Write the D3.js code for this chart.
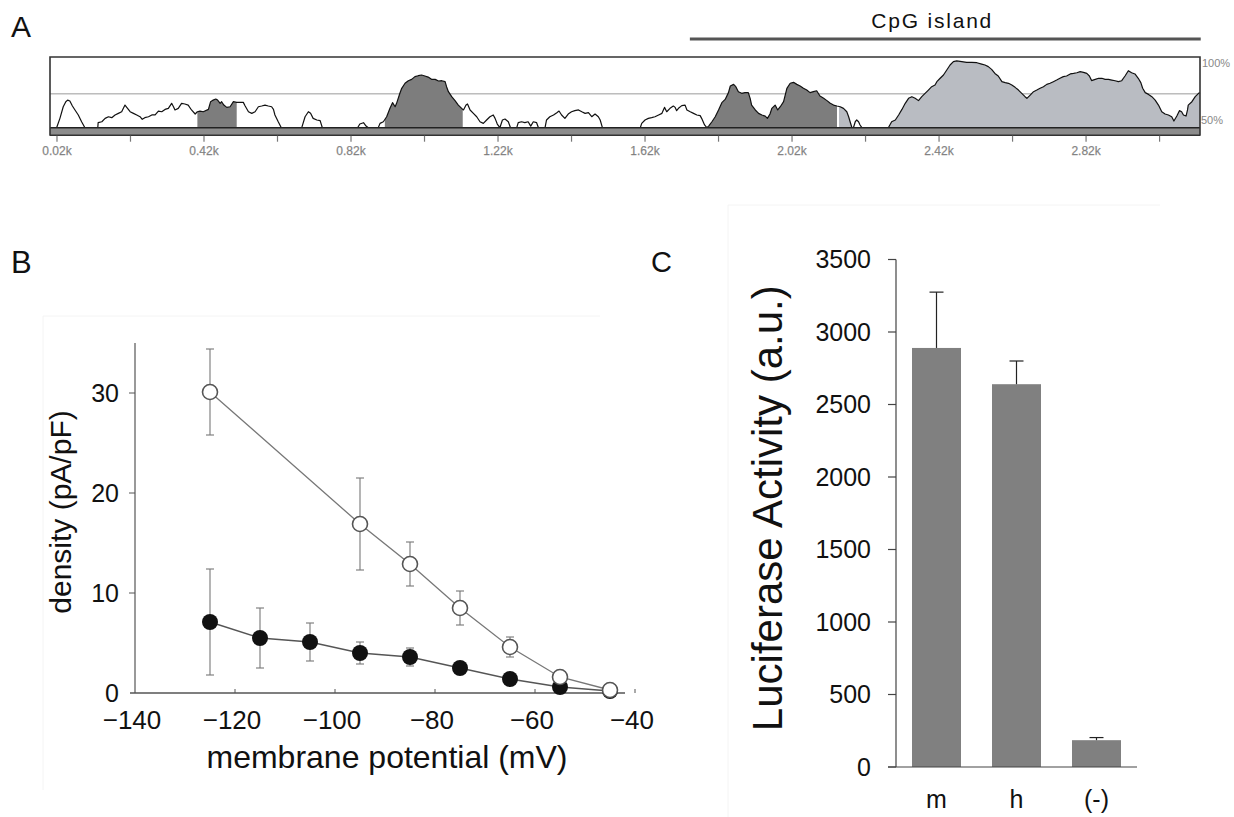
<!DOCTYPE html>
<html>
<head>
<meta charset="utf-8">
<script src="https://cdn.jsdelivr.net/npm/d3@7"></script>
<style>
  body { margin: 0; background: #fff; }
  svg { display: block; font-family: Arial, "Liberation Sans", Helvetica, sans-serif; }
</style>
</head>
<body>
<svg id="fig" width="1234" height="817"></svg>
<script>
// ---------------- Panel A: sequence identity profile (bp, % identity) ----------------
const identityProfile = [
  [1,50],[19,50],[28,56.9],[37,65.5],[44,69.2],[49,70.4],[55,69.7],[62,66],[69,63.1],[78,59.4],[87,54.4],[96,50],
  [131,50],[132,53.7],[142,54.4],[151,56.9],[160,58.1],[169,57.4],[178,59.4],[187,60.6],[196,61.8],[205,66.7],
  [212,64.3],[219,61.8],[228,60.6],[237,59.4],[246,58.1],[252,56.2],[259,57.4],[269,58.1],[278,59.4],[287,59.4],
  [296,62.3],[305,61.8],[314,63.5],[323,64.3],[332,68.0],[337,65.5],[341,63.1],[350,64.3],[359,68.0],[368,67.5],
  [377,66.7],[386,63.1],[396,60.1],[402,61.8],[409,62.3],[418,61.8],[432,63.5],[438,69.2],[445,70.4],[452,71.2],
  [457,70.4],[464,68.0],[468,69.2],[474,66.7],[482,65.0],[491,65.5],[500,69.2],[509,68.7],[518,68.7],[527,68.7],
  [532,66.0],[541,61.8],[550,60.6],[559,61.8],[568,65.5],[577,66.0],[586,66.7],[595,66.0],[604,65.5],[609,63.5],
  [613,59.4],[622,54.4],[630,50.2],[640,50],
  [686,50],[695,58.1],[704,61.8],[710,60.6],[717,56.9],[727,55.7],[736,55.2],[742,50],
  [838,50],[844,52.7],[854,53.7],[861,51.2],[867,50],
  [894,50],[899,53.2],[908,54.4],[917,58.1],[926,64.3],[933,68.5],[940,65.5],[944,68.0],[953,75.4],[958,79.1],
  [967,82.8],[976,84.7],[985,85.7],[994,87.7],[1003,88.4],[1012,88.9],[1021,88.2],[1030,87.4],[1039,85.7],
  [1049,85.7],[1058,84.5],[1067,84.7],[1076,84.0],[1080,80.3],[1085,76.6],[1094,72.9],[1103,70.0],[1112,66.7],
  [1121,64.3],[1126,63.1],[1133,66.7],[1137,67.5],[1144,63.1],[1153,60.6],[1162,58.1],[1171,54.4],[1180,53.2],
  [1189,55.7],[1198,58.1],[1207,59.4],[1212,56.9],[1218,52.7],[1225,50],[1232,55.7],[1239,56.4],[1248,54.4],
  [1254,50],[1271,50],[1275,53.7],[1284,54.4],[1293,53.7],[1302,54.4],[1309,51.2],[1316,54.4],[1325,53.7],
  [1330,50],[1348,50],[1352,55.7],[1361,58.1],[1371,59.4],[1380,61.1],[1386,62.3],[1393,59.4],[1402,56.9],
  [1411,60.1],[1420,61.8],[1429,62.6],[1439,63.1],[1448,61.8],[1457,60.6],[1466,61.1],[1475,58.1],[1484,60.1],
  [1493,58.1],[1498,55.7],[1504,50],
  [1607,50],[1611,53.2],[1620,55.7],[1629,56.9],[1638,57.4],[1647,58.1],[1657,59.4],[1666,60.6],[1673,65.0],
  [1679,61.8],[1688,64.3],[1697,66.0],[1702,65.0],[1706,62.6],[1711,64.3],[1720,66.3],[1729,66.7],[1734,63.1],
  [1743,61.8],[1752,60.6],[1761,59.4],[1770,58.9],[1774,56.9],[1782,52.0],[1788,50],[1793,51.2],[1802,54.4],
  [1811,58.1],[1820,63.1],[1829,68.5],[1838,70.9],[1847,75.9],[1852,80.8],[1861,82.0],[1867,80.3],[1874,76.6],
  [1883,75.4],[1892,75.9],[1901,75.9],[1906,71.7],[1910,66.7],[1920,63.1],[1929,60.6],[1938,59.4],[1947,58.6],
  [1953,56.9],[1960,60.1],[1965,64.3],[1974,66.7],[1981,63.1],[1988,65.5],[1997,69.2],[2006,79.1],[2015,82.8],
  [2024,83.5],[2033,82.0],[2042,80.8],[2051,79.1],[2060,77.8],[2069,75.9],[2078,76.6],[2087,77.3],[2096,73.4],
  [2106,71.7],[2115,70.0],[2124,68.0],[2133,66.7],[2142,66.0],[2151,65.5],[2160,64.3],[2169,61.8],[2174,58.1],
  [2178,54.4],[2183,50],[2187,50],[2192,54.4],[2196,55.7],[2201,54.4],[2205,52.0],[2210,50],
  [2282,50],[2291,54.4],[2301,55.7],[2310,59.4],[2319,63.5],[2328,68.0],[2337,71.7],[2346,72.9],[2355,71.7],
  [2364,70.0],[2373,72.9],[2382,75.4],[2391,77.8],[2400,80.3],[2409,81.5],[2414,84.0],[2423,86.5],[2432,88.9],
  [2441,92.6],[2450,96.3],[2459,98.8],[2468,99.3],[2482,98.8],[2495,98.3],[2509,98.3],[2523,98.0],[2536,97.0],
  [2545,96.3],[2554,95.1],[2563,93.1],[2572,90.1],[2581,88.2],[2591,84.0],[2600,83.3],[2609,82.8],[2618,81.5],
  [2627,79.8],[2636,77.8],[2645,75.4],[2654,72.9],[2659,71.7],[2668,74.1],[2677,76.6],[2686,77.8],[2695,79.1],
  [2704,80.3],[2713,82.0],[2722,82.8],[2731,84.0],[2740,85.2],[2749,86.5],[2758,87.7],[2767,88.2],[2777,89.7],
  [2786,90.1],[2795,90.6],[2804,91.4],[2813,90.9],[2822,90.1],[2829,88.2],[2835,84.8],[2845,85.7],[2854,86.5],
  [2863,86.5],[2872,85.7],[2881,85.7],[2890,85.2],[2899,84.7],[2908,84.0],[2917,84.7],[2926,88.2],[2935,92.1],
  [2944,90.6],[2953,89.7],[2962,86.5],[2969,83.3],[2974,79.1],[2981,75.9],[2990,74.6],[2999,72.9],[3008,70.4],
  [3017,66.7],[3026,61.8],[3035,60.1],[3044,59.4],[3053,58.1],[3059,54.9],[3067,58.6],[3074,62.6],[3080,61.8],
  [3085,59.4],[3092,58.6],[3096,63.1],[3098,66.7],[3108,69.2],[3117,72.9],[3126,75.4],[3130,75.9]
];
const conservedRegions = [[402, 509], [912, 1124], [1794, 2142]];   // dark fill
const utrRegions = [[2148, 2183], [2282, 3130]];                     // light fill
const cpgIsland = [1742, 3132];
const identityThreshold = 75;
const positionTicks = [20, 220, 420, 620, 820, 1020, 1220, 1420, 1620, 1820, 2020, 2220, 2420, 2620, 2820, 3020];
const positionLabels = [20, 420, 820, 1220, 1620, 2020, 2420, 2820];

// ---------------- Panel B: current density vs membrane potential ----------------
const filledPotential = [-125, -115, -105, -95, -85, -75, -65, -55, -45];
const filledDensity   = [7.1, 5.5, 5.1, 4.0, 3.6, 2.5, 1.4, 0.6, 0.2];
const filledSem       = [5.3, 3.0, 1.9, 1.1, 0.9, 0.3, 0.2, 0.1, 0];
const openPotential   = [-125, -95, -85, -75, -65, -55, -45];
const openDensity     = [30.1, 16.9, 12.9, 8.5, 4.6, 1.6, 0.3];
const openSem         = [4.3, 4.6, 2.2, 1.7, 1.0, 0.3, 0];
const potentialTicks  = [-140, -120, -100, -80, -60, -40];
const densityTicks    = [0, 10, 20, 30];

// ---------------- Panel C: luciferase reporter ----------------
const constructs    = ["m", "h", "(-)"];
const luciferase    = [2890, 2640, 185];
const luciferaseErr = [385, 160, 18];
const activityTicks = [0, 500, 1000, 1500, 2000, 2500, 3000, 3500];

const svg = d3.select("#fig");

// faint outlines of the pasted sub-figures
svg.append("path").attr("d", "M43,790V316H600").attr("fill", "none").attr("stroke", "#f4f4f4");
svg.append("path").attr("d", "M728,817V205H1160").attr("fill", "none").attr("stroke", "#f4f4f4");

// panel letters
[["A", 11, 37, 30], ["B", 11, 273, 31], ["C", 651, 272, 29]].forEach(([t, x, y, s]) => {
  svg.append("text").attr("x", x).attr("y", y).attr("font-size", s).attr("fill", "#111").text(t);
});

// ===== Panel A =====
const xA = d3.scaleLinear().domain([1, 3130]).range([50, 1200]);
const yA = d3.scaleLinear().domain([50, 100]).range([127.7, 60]);
const gA = svg.append("g");

// CpG island bar + label
gA.append("line")
  .attr("x1", xA(cpgIsland[0])).attr("x2", xA(cpgIsland[1]))
  .attr("y1", 39).attr("y2", 39)
  .attr("stroke", "#555").attr("stroke-width", 3);
gA.append("text")
  .attr("x", (xA(cpgIsland[0]) + xA(cpgIsland[1])) / 2 - 14).attr("y", 28)
  .attr("text-anchor", "middle").attr("font-size", 21).attr("fill", "#111")
  .attr("textLength", 120).attr("lengthAdjust", "spacing")
  .text("CpG island");

// threshold line
gA.append("line")
  .attr("x1", xA(1)).attr("x2", xA(3130))
  .attr("y1", yA(identityThreshold)).attr("y2", yA(identityThreshold))
  .attr("stroke", "#9a9a9a").attr("stroke-width", 1);

const areaA = d3.area().x(d => xA(d[0])).y0(yA(50)).y1(d => yA(d[1]));
const lineA = d3.line().x(d => xA(d[0])).y(d => yA(d[1]));
const defs = svg.append("defs");

function fillRegions(regions, color, prefix) {
  regions.forEach((r, i) => {
    const id = prefix + i;
    defs.append("clipPath").attr("id", id).append("rect")
      .attr("x", xA(r[0])).attr("width", xA(r[1]) - xA(r[0]))
      .attr("y", 50).attr("height", 90);
    gA.append("path").datum(identityProfile)
      .attr("d", areaA).attr("fill", color).attr("clip-path", `url(#${id})`);
  });
}
fillRegions(conservedRegions, "#7d7d7d", "cns");
fillRegions(utrRegions, "#b9bcc2", "utr");

gA.append("path").datum(identityProfile)
  .attr("d", lineA).attr("fill", "none")
  .attr("stroke", "#111").attr("stroke-width", 1.2).attr("stroke-linejoin", "round");

// base band
gA.append("rect").attr("x", xA(1)).attr("width", xA(3130) - xA(1))
  .attr("y", yA(50)).attr("height", 8).attr("fill", "#8c8c8c");
gA.append("line").attr("x1", xA(1)).attr("x2", xA(3130))
  .attr("y1", yA(50)).attr("y2", yA(50)).attr("stroke", "#222").attr("stroke-width", 1.6);
gA.append("line").attr("x1", xA(1)).attr("x2", xA(3130))
  .attr("y1", yA(50) + 7.5).attr("y2", yA(50) + 7.5).attr("stroke", "#333").attr("stroke-width", 1.6);

// frame
gA.append("path")
  .attr("d", `M${xA(1)},${yA(50) + 8}V57H${xA(3130)}V${yA(50) + 8}`)
  .attr("fill", "none").attr("stroke", "#333").attr("stroke-width", 1.6);

// position axis
gA.selectAll(".ptick").data(positionTicks).join("line")
  .attr("x1", d => xA(d)).attr("x2", d => xA(d))
  .attr("y1", yA(50) + 8).attr("y2", yA(50) + 14)
  .attr("stroke", "#777").attr("stroke-width", 1.2);
gA.selectAll(".plab").data(positionLabels).join("text")
  .attr("x", d => xA(d)).attr("y", 155).attr("text-anchor", "middle")
  .attr("font-size", 12).attr("fill", "#7a7a7a")
  .attr("stroke", "#9a9a9a").attr("stroke-width", 0.25)
  .text(d => (d / 1000).toFixed(2) + "k");

// identity scale labels
gA.append("text").attr("x", xA(3130) + 2).attr("y", yA(100) + 7)
  .attr("font-size", 11).attr("fill", "#888").text("100%");
gA.append("text").attr("x", xA(3130) + 1).attr("y", yA(50) - 4)
  .attr("font-size", 11).attr("fill", "#888").text("50%");

// ===== Panel B =====
const xB = d3.scaleLinear().domain([-140, -40]).range([135, 635]);
const yB = d3.scaleLinear().domain([0, 35]).range([693, 343]);
const gB = svg.append("g");
const axisColor = "#555";
const fmtMinus = d3.format("d");   // uses the true minus sign

gB.append("line").attr("x1", xB(-140)).attr("x2", xB(-140))
  .attr("y1", yB(0)).attr("y2", yB(35)).attr("stroke", axisColor).attr("stroke-width", 1.2);
gB.append("line").attr("x1", xB(-141)).attr("x2", xB(-42))
  .attr("y1", yB(0)).attr("y2", yB(0)).attr("stroke", axisColor).attr("stroke-width", 1.5);

gB.selectAll(".yt").data(densityTicks.filter(d => d > 0)).join("line")
  .attr("x1", xB(-140) - 6).attr("x2", xB(-140))
  .attr("y1", d => yB(d)).attr("y2", d => yB(d)).attr("stroke", axisColor);
gB.selectAll(".yl").data(densityTicks).join("text")
  .attr("x", 119).attr("y", d => yB(d)).attr("dy", "0.35em")
  .attr("text-anchor", "end").attr("font-size", 25).attr("fill", "#111").text(d => d);

gB.selectAll(".xt").data(potentialTicks.filter(d => d > -140)).join("line")
  .attr("x1", d => xB(d)).attr("x2", d => xB(d))
  .attr("y1", yB(0)).attr("y2", yB(0) - 4).attr("stroke", axisColor);
gB.selectAll(".xl").data(potentialTicks).join("text")
  .attr("x", d => xB(d) - 3).attr("y", 729).attr("text-anchor", "middle")
  .attr("font-size", 26).attr("fill", "#111").text(d => fmtMinus(d));

gB.append("text").attr("x", 387).attr("y", 768).attr("text-anchor", "middle")
  .attr("font-size", 32).attr("fill", "#111").text("membrane potential (mV)");
gB.append("text").attr("transform", `translate(71,${yB(18.1)}) rotate(-90)`)
  .attr("text-anchor", "middle").attr("font-size", 30).attr("fill", "#111")
  .text("density (pA/pF)");

const filled = filledPotential.map((v, i) => ({ v, y: filledDensity[i], e: filledSem[i] }));
const open = openPotential.map((v, i) => ({ v, y: openDensity[i], e: openSem[i] }));
const lineB = d3.line().x(d => xB(d.v)).y(d => yB(d.y));

gB.append("path").datum(filled).attr("d", lineB).attr("fill", "none")
  .attr("stroke", "#555").attr("stroke-width", 1.4);
gB.append("path").datum(open).attr("d", lineB).attr("fill", "none")
  .attr("stroke", "#777").attr("stroke-width", 1.3);

function errorBars(data) {
  const g = gB.append("g").attr("stroke", "#777").attr("stroke-width", 1.1);
  data.filter(d => d.e > 0.5).forEach(d => {
    const x = xB(d.v);
    g.append("line").attr("x1", x).attr("x2", x).attr("y1", yB(d.y + d.e)).attr("y2", yB(d.y - d.e));
    g.append("line").attr("x1", x - 4).attr("x2", x + 4).attr("y1", yB(d.y + d.e)).attr("y2", yB(d.y + d.e));
    g.append("line").attr("x1", x - 4).attr("x2", x + 4).attr("y1", yB(d.y - d.e)).attr("y2", yB(d.y - d.e));
  });
}
errorBars(open);
errorBars(filled);

gB.selectAll(".fdot").data(filled).join("circle")
  .attr("cx", d => xB(d.v)).attr("cy", d => yB(d.y)).attr("r", 8).attr("fill", "#111");
gB.selectAll(".odot").data(open).join("circle")
  .attr("cx", d => xB(d.v)).attr("cy", d => yB(d.y)).attr("r", 7.5)
  .attr("fill", "#fff").attr("stroke", "#555").attr("stroke-width", 1.6);

// ===== Panel C =====
const yC = d3.scaleLinear().domain([0, 3500]).range([767, 259.5]);
const xC = d3.scaleBand().domain(constructs).range([896, 1137]).paddingInner(0.3875).paddingOuter(0.2);
const gC = svg.append("g");

gC.selectAll(".bar").data(constructs).join("rect")
  .attr("x", d => xC(d)).attr("width", xC.bandwidth())
  .attr("y", (d, i) => yC(luciferase[i])).attr("height", (d, i) => yC(0) - yC(luciferase[i]))
  .attr("fill", "#808080");

constructs.forEach((c, i) => {
  const cx = xC(c) + xC.bandwidth() / 2;
  const top = yC(luciferase[i] + luciferaseErr[i]);
  gC.append("line").attr("x1", cx).attr("x2", cx).attr("y1", yC(luciferase[i])).attr("y2", top)
    .attr("stroke", "#222").attr("stroke-width", 1.2);
  gC.append("line").attr("x1", cx - 7).attr("x2", cx + 7).attr("y1", top).attr("y2", top)
    .attr("stroke", "#222").attr("stroke-width", 1.2);
});

gC.append("line").attr("x1", 896).attr("x2", 896).attr("y1", yC(0)).attr("y2", yC(3500))
  .attr("stroke", "#444").attr("stroke-width", 1.2);
gC.append("line").attr("x1", 888).attr("x2", 1137).attr("y1", yC(0)).attr("y2", yC(0))
  .attr("stroke", "#444").attr("stroke-width", 1.2);
gC.selectAll(".ct").data(activityTicks).join("line")
  .attr("x1", 888).attr("x2", 896).attr("y1", d => yC(d)).attr("y2", d => yC(d))
  .attr("stroke", "#444").attr("stroke-width", 1.2);
gC.selectAll(".cl").data(activityTicks).join("text")
  .attr("x", 871).attr("y", d => yC(d)).attr("dy", "0.35em").attr("text-anchor", "end")
  .attr("font-size", 25).attr("fill", "#111").text(d => d);
gC.selectAll(".xl").data(constructs).join("text")
  .attr("x", d => xC(d) + xC.bandwidth() / 2).attr("y", 808).attr("text-anchor", "middle")
  .attr("font-size", 25).attr("fill", "#111").text(d => d);

gC.append("text").attr("transform", `translate(782,${(yC(0) + yC(3500)) / 2 - 5}) rotate(-90)`)
  .attr("text-anchor", "middle").attr("font-size", 42).attr("fill", "#111")
  .text("Luciferase Activity (a.u.)");
</script>
</body>
</html>
